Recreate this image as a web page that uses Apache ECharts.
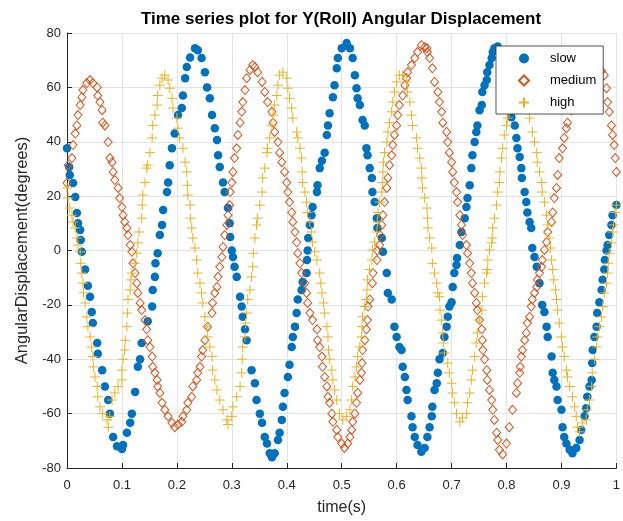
<!DOCTYPE html>
<html>
<head>
<meta charset="utf-8">
<script src="https://cdn.jsdelivr.net/npm/echarts@6/dist/echarts.min.js"></script>
<style>
html,body{margin:0;padding:0;background:#fff;}
#chart{width:623px;height:521px;}
</style>
</head>
<body>
<div id="chart"></div>
<script>
var titleText = 'Time series plot for Y(Roll) Angular Displacement';
var xName = 'time(s)';
var yName = 'AngularDisplacement(degrees)';
var seriesNames = ['slow', 'medium', 'high'];

var slowData = [
[0.000,37.6],[0.004,30.7],[0.005,27.8],[0.011,24.8],[0.015,19.7],[0.018,13.8],[0.020,10.0],[0.024,7.5],[0.025,3.9],[0.027,-0.5],
[0.033,-7],[0.038,-13],[0.042,-17],[0.045,-22.6],[0.047,-26.7],[0.055,-34],[0.056,-38],[0.064,-44],[0.069,-50],[0.075,-55],
[0.078,-60],[0.084,-68.6],[0.091,-72],[0.100,-73],[0.102,-71.5],[0.109,-67],[0.115,-63.4],[0.118,-60],[0.124,-52],[0.129,-42.8],
[0.133,-40],[0.136,-34],[0.147,-26],[0.155,-20.6],[0.156,-14.5],[0.160,-9.7],[0.161,-4.7],[0.165,-1],[0.169,5.7],[0.173,9.4],
[0.175,14.9],[0.182,21.5],[0.184,25],[0.187,31.4],[0.191,37.6],[0.196,43],[0.202,49.8],[0.209,52.4],[0.211,57],[0.215,63.4],
[0.218,67.5],[0.224,71],[0.233,74.4],[0.238,73.7],[0.245,70.8],[0.251,65.6],[0.255,60],[0.260,56],[0.264,49.8],[0.269,45],
[0.273,40.6],[0.275,35],[0.278,30.7],[0.284,25],[0.287,21.5],[0.293,15.6],[0.296,10],[0.297,5],[0.300,0],[0.302,-2.4],
[0.305,-6],[0.309,-9.7],[0.315,-17],[0.318,-20.6],[0.320,-24.4],[0.324,-29],[0.327,-33],[0.336,-44],[0.342,-48.8],[0.345,-55],
[0.351,-60],[0.355,-63.4],[0.360,-68.6],[0.364,-71],[0.369,-74.6],[0.373,-76],[0.378,-74.6],[0.384,-69.7],[0.387,-67],[0.391,-62.3],
[0.393,-57.5],[0.396,-52.4],[0.402,-46.5],[0.405,-42],[0.409,-35.5],[0.411,-31.8],[0.415,-28],[0.418,-23],[0.420,-18],[0.427,-14.5],
[0.429,-11.6],[0.436,-8.3],[0.437,-3.5],[0.438,0],[0.439,4.6],[0.442,9.4],[0.445,13],[0.447,16],[0.455,21.5],[0.456,24],
[0.460,30.3],[0.464,33],[0.469,36],[0.473,42.5],[0.475,46],[0.478,50.5],[0.484,56.4],[0.487,60.8],[0.491,67],[0.493,70.8],
[0.500,74.4],[0.509,76.3],[0.515,74.4],[0.520,70.8],[0.524,64.5],[0.527,59.7],[0.529,56],[0.533,53.5],[0.538,48],[0.542,46],
[0.545,37.6],[0.547,35],[0.551,30.3],[0.555,26.7],[0.556,21.5],[0.560,17.8],[0.564,11.9],[0.565,8.3],[0.573,4.6],[0.575,-0.5],
[0.582,-8.3],[0.584,-15.6],[0.591,-18],[0.596,-28],[0.600,-31.8],[0.605,-35.5],[0.609,-36.6],[0.611,-42.8],[0.615,-46.5],[0.618,-51.3],
[0.620,-55],[0.627,-61],[0.629,-65],[0.633,-68.6],[0.638,-71.5],[0.645,-74],[0.651,-72.6],[0.656,-68.6],[0.660,-65],[0.664,-61],
[0.665,-57.5],[0.669,-51.3],[0.673,-48.8],[0.675,-45],[0.678,-40],[0.684,-37.7],[0.687,-31.8],[0.691,-28],[0.693,-24.4],[0.696,-20.6],
[0.700,-19],[0.702,-13.4],[0.705,-8.3],[0.709,-5.3],[0.710,-2.8],[0.715,2],[0.718,6.8],[0.724,11.9],[0.727,16],[0.729,19.3],
[0.733,24],[0.736,30.3],[0.738,35],[0.742,39.9],[0.745,43.6],[0.747,46],[0.751,51.6],[0.755,53.5],[0.756,58.3],[0.760,60.8],
[0.764,62.7],[0.765,65.6],[0.769,68.2],[0.773,70.8],[0.775,73],[0.778,74.4],[0.784,75],[0.789,72],[0.795,64],[0.802,53.5],
[0.809,49],[0.815,46],[0.818,41.4],[0.820,37.6],[0.824,34.4],[0.827,30.3],[0.828,26.7],[0.833,21.5],[0.836,17.8],[0.838,14],
[0.842,10.5],[0.845,8.3],[0.847,0.9],[0.851,-2.4],[0.855,-6],[0.860,-12],[0.865,-20],[0.869,-22.6],[0.873,-28],[0.875,-31.8],
[0.882,-39],[0.884,-45],[0.887,-47.6],[0.891,-50],[0.893,-55],[0.900,-58.6],[0.902,-65],[0.905,-68.6],[0.909,-71],[0.915,-73.3],
[0.920,-74.6],[0.927,-72.6],[0.933,-69.7],[0.936,-66],[0.942,-61],[0.945,-58],[0.947,-53.8],[0.951,-50],[0.955,-47.6],[0.956,-41.4],
[0.957,-36.6],[0.960,-31.8],[0.964,-28],[0.965,-23],[0.969,-19],[0.973,-14.5],[0.975,-10.8],[0.978,-7],[0.979,-3.5],[0.982,0],
[0.984,2],[0.987,5.7],[0.991,9.4],[0.993,13],[1.000,16.7]
];

var mediumData = [
[0.000,24.8],[0.002,31.4],[0.009,34],[0.011,38.8],[0.015,43],[0.018,46],[0.020,49.8],[0.024,53.5],[0.027,56.4],[0.029,59],
[0.036,61.6],[0.042,62.7],[0.047,61.6],[0.055,60],[0.056,57],[0.060,54.6],[0.064,51.6],[0.065,47],[0.069,46],[0.075,39.9],
[0.078,34],[0.082,32.5],[0.084,28.9],[0.087,25.9],[0.093,23],[0.096,19.3],[0.100,16],[0.102,13],[0.105,10.5],[0.109,8.3],
[0.111,5.7],[0.115,2],[0.118,-0.5],[0.120,-4.7],[0.124,-8.3],[0.127,-12],[0.129,-15.6],[0.133,-19.3],[0.136,-21.9],[0.142,-25.6],
[0.145,-29],[0.147,-33],[0.151,-35.5],[0.155,-39],[0.156,-42.8],[0.160,-45],[0.164,-47.6],[0.165,-50],[0.169,-52.4],[0.173,-56],
[0.178,-58.6],[0.184,-61],[0.191,-63.4],[0.196,-65],[0.202,-64],[0.209,-63],[0.211,-61],[0.218,-58.6],[0.220,-56],[0.227,-53.8],
[0.229,-50],[0.236,-47.6],[0.238,-45],[0.242,-42.8],[0.245,-39],[0.247,-36.6],[0.251,-33],[0.256,-28],[0.264,-23],[0.265,-19.3],
[0.269,-15.6],[0.273,-13.4],[0.275,-9.7],[0.278,-6],[0.282,-2.4],[0.284,1.3],[0.287,5.7],[0.291,9.4],[0.293,13],[0.296,16.7],
[0.297,21.5],[0.300,25],[0.302,28.9],[0.305,34],[0.309,37.6],[0.311,42.5],[0.315,47],[0.318,51],[0.320,54.6],[0.324,59],
[0.327,63.4],[0.333,66.4],[0.338,68.2],[0.342,67.5],[0.347,65.6],[0.355,62],[0.360,58.3],[0.365,54.6],[0.373,51],[0.375,47],
[0.378,43.6],[0.384,39.9],[0.387,36],[0.391,32.5],[0.396,28.9],[0.400,25],[0.402,21.5],[0.405,17.8],[0.409,14],[0.411,10.5],
[0.415,6.8],[0.418,3],[0.420,-1],[0.424,-4.7],[0.427,-8.3],[0.433,-12],[0.436,-15.6],[0.438,-19.3],[0.442,-23],[0.447,-25.6],
[0.455,-29],[0.456,-33],[0.460,-35.5],[0.464,-39],[0.465,-42.8],[0.469,-46.5],[0.473,-50],[0.475,-53.8],[0.478,-56],[0.482,-60],
[0.484,-63],[0.491,-66],[0.493,-68.6],[0.500,-71],[0.505,-72.6],[0.511,-71],[0.515,-68.6],[0.518,-66],[0.520,-63],[0.524,-60],
[0.527,-56],[0.529,-52.4],[0.533,-47.6],[0.536,-45],[0.537,-41.4],[0.538,-36.6],[0.542,-33],[0.545,-29],[0.547,-25.6],[0.548,-20.6],
[0.551,-18],[0.556,-12],[0.557,-8.3],[0.564,-3.5],[0.565,0],[0.569,2],[0.570,5.7],[0.573,9.4],[0.575,13],[0.578,17.8],
[0.582,23],[0.584,26.7],[0.587,31.4],[0.591,35],[0.593,38.8],[0.596,42.5],[0.600,46],[0.602,49.8],[0.605,53.5],[0.611,57],
[0.615,60.8],[0.618,63.4],[0.620,65.6],[0.627,68.2],[0.633,70.8],[0.638,73],[0.645,75.5],[0.651,74.8],[0.655,74.4],[0.656,73],
[0.660,70.8],[0.665,67],[0.669,62],[0.675,58.3],[0.678,54.6],[0.682,51],[0.684,47],[0.691,43.6],[0.693,39.9],[0.696,36],
[0.700,32.5],[0.702,28.9],[0.705,25],[0.709,21.5],[0.711,17.8],[0.715,13],[0.718,9.4],[0.720,5.7],[0.727,2],[0.729,-1],
[0.733,-4.7],[0.736,-8.3],[0.738,-12],[0.742,-15.6],[0.745,-19.3],[0.747,-21.9],[0.751,-25.6],[0.755,-29],[0.756,-33],[0.757,-36.6],
[0.760,-40],[0.764,-44],[0.765,-47.6],[0.769,-51.3],[0.773,-55],[0.775,-58.6],[0.778,-62.3],[0.782,-67],[0.784,-69.7],[0.787,-73.3],
[0.793,-75],[0.800,-71],[0.805,-65],[0.811,-58.6],[0.818,-52.4],[0.820,-48.8],[0.824,-45],[0.825,-42.8],[0.827,-39],[0.829,-36.6],
[0.833,-33],[0.836,-30.3],[0.838,-26.7],[0.842,-24.4],[0.845,-20.6],[0.847,-18],[0.851,-15.6],[0.855,-13.4],[0.856,-10.8],[0.860,-8.3],
[0.864,-6],[0.865,-3.5],[0.869,0.2],[0.873,3.1],[0.875,6.8],[0.882,10.5],[0.884,14],[0.887,19.3],[0.891,23],[0.893,27.8],
[0.896,34],[0.902,37.6],[0.905,41.4],[0.909,45],[0.911,47],[0.918,51.6],[0.924,56],[0.929,61],[0.936,65],[0.944,68],
[0.951,69],[0.958,68],[0.965,67],[0.973,66],[0.978,64.5],[0.982,59.7],[0.984,54.6],[0.987,51],[0.991,46],[0.993,42.5],
[0.996,38.8],[0.998,34],[1.000,28.9]
];

var highData = [
[0.000,23],[0.002,19.3],[0.005,15.6],[0.009,13],[0.011,10.5],[0.015,8.3],[0.018,4.6],[0.020,2],[0.024,-0.5],[0.025,-4.7],
[0.027,-8.3],[0.029,-12],[0.030,-15.6],[0.033,-19.3],[0.036,-24.4],[0.038,-28],[0.042,-31.8],[0.045,-35.5],[0.047,-39],[0.048,-42.8],
[0.051,-46.5],[0.055,-50],[0.056,-53.8],[0.060,-57.5],[0.065,-60],[0.073,-62.3],[0.075,-65],[0.078,-61],[0.082,-55],[0.087,-52.4],
[0.093,-50],[0.100,-47.6],[0.100,-44],[0.102,-40],[0.105,-36.6],[0.106,-33],[0.109,-28],[0.110,-23],[0.111,-18],[0.115,-14.5],
[0.116,-10.8],[0.118,-8.3],[0.124,-4.7],[0.127,-1],[0.129,2.8],[0.131,6.8],[0.136,11.9],[0.137,16.7],[0.138,20.4],[0.142,25],
[0.145,30.3],[0.147,31.4],[0.151,36],[0.155,41.4],[0.156,46],[0.160,49.8],[0.164,53.5],[0.165,57],[0.169,60.8],[0.173,63.4],
[0.178,64.5],[0.184,62.7],[0.187,59.7],[0.191,56],[0.193,52.4],[0.200,48.7],[0.202,45],[0.205,41.4],[0.211,37.6],[0.215,32.5],
[0.218,28.9],[0.219,24],[0.220,20.4],[0.224,16.7],[0.225,11.9],[0.227,8.3],[0.229,4.6],[0.233,0.9],[0.236,-3.5],[0.238,-8.3],
[0.242,-12],[0.245,-15.6],[0.247,-19.3],[0.251,-24.4],[0.255,-28],[0.256,-31.8],[0.260,-35.5],[0.264,-39],[0.265,-44],[0.269,-47.6],
[0.273,-51.3],[0.278,-55],[0.284,-58.6],[0.291,-62.3],[0.293,-64],[0.300,-61],[0.302,-57.5],[0.309,-53.8],[0.315,-50],[0.318,-45],
[0.319,-40],[0.320,-35.5],[0.324,-31.8],[0.325,-26.7],[0.327,-23],[0.329,-18],[0.333,-14.5],[0.336,-9.7],[0.338,-6],[0.339,-1],
[0.342,4.6],[0.345,9.4],[0.347,11.9],[0.351,16.7],[0.355,21.5],[0.356,26.7],[0.360,30.3],[0.364,36],[0.365,37.6],[0.369,41.4],
[0.373,46],[0.375,49.8],[0.378,53.5],[0.382,57],[0.384,60.8],[0.387,64.5],[0.393,65.6],[0.400,63.4],[0.402,59.7],[0.405,56],
[0.409,52.4],[0.411,48.7],[0.418,43.6],[0.420,41.4],[0.424,37.6],[0.427,34],[0.428,28.9],[0.429,25],[0.433,21.5],[0.436,17.8],
[0.438,14],[0.442,10.5],[0.445,6.8],[0.447,3.1],[0.451,-0.5],[0.455,-3.5],[0.460,-8.3],[0.462,-12],[0.464,-15.6],[0.467,-19.3],
[0.469,-23],[0.473,-28],[0.475,-31.8],[0.476,-36.6],[0.478,-40],[0.482,-44],[0.484,-47.6],[0.487,-51.3],[0.491,-55],[0.496,-60],
[0.502,-62.3],[0.509,-61],[0.515,-58.6],[0.518,-55],[0.520,-50],[0.524,-46.5],[0.527,-42.8],[0.529,-39],[0.533,-35.5],[0.536,-31.8],
[0.537,-28],[0.538,-24.4],[0.542,-20.6],[0.545,-18],[0.546,-14.5],[0.547,-10.8],[0.551,-7],[0.555,-3.5],[0.556,0.2],[0.560,3.1],
[0.564,6.8],[0.565,10.5],[0.566,14],[0.569,17.8],[0.573,21.5],[0.574,25],[0.575,28.9],[0.576,32.5],[0.578,36],[0.582,39.9],
[0.584,43.6],[0.587,47],[0.591,51],[0.593,54.6],[0.596,58.3],[0.600,62],[0.605,64.5],[0.611,64.5],[0.618,62],[0.620,58.3],
[0.624,54.6],[0.627,49.8],[0.629,46],[0.636,41.4],[0.638,37.6],[0.642,34],[0.645,30.3],[0.646,26.7],[0.647,23],[0.651,19.3],
[0.655,15.6],[0.656,11.9],[0.657,8.3],[0.660,4.6],[0.664,0.9],[0.665,-4.7],[0.669,-8.3],[0.673,-12],[0.675,-15.6],[0.678,-17],
[0.679,-21.9],[0.682,-25.6],[0.684,-30.3],[0.685,-34],[0.687,-37.7],[0.693,-41.4],[0.696,-45],[0.700,-48.8],[0.702,-52.4],[0.705,-56],
[0.709,-60],[0.715,-63],[0.720,-61.6],[0.727,-60],[0.729,-56],[0.733,-52.4],[0.736,-47.6],[0.738,-44],[0.742,-39],[0.745,-34],
[0.747,-30.3],[0.751,-25.6],[0.755,-21.9],[0.756,-17],[0.760,-12],[0.764,-8.3],[0.765,-7],[0.766,-3.5],[0.769,0.2],[0.773,2.8],
[0.774,4.6],[0.775,8.3],[0.778,11.9],[0.782,16.7],[0.784,21.5],[0.787,25],[0.788,28.9],[0.791,34],[0.793,37.6],[0.796,42.5],
[0.800,46],[0.802,48.7],[0.805,51],[0.809,56],[0.813,60],[0.818,63],[0.822,64],[0.827,62],[0.831,57],[0.835,52],
[0.842,48.7],[0.847,43.6],[0.851,39.9],[0.855,36],[0.856,32.5],[0.860,28.9],[0.864,25],[0.865,21.5],[0.869,17.8],[0.873,13],
[0.875,9.4],[0.878,4.6],[0.880,0.9],[0.882,-3.5],[0.884,-7],[0.886,-10.8],[0.889,-14.5],[0.891,-18],[0.893,-21.9],[0.896,-26.7],
[0.900,-31.8],[0.902,-35.5],[0.905,-39],[0.909,-44],[0.911,-46.5],[0.915,-50],[0.920,-53.8],[0.924,-57.5],[0.927,-61],[0.929,-65],
[0.933,-66.7],[0.938,-63.4],[0.945,-62.3],[0.947,-58.6],[0.951,-55],[0.955,-50],[0.956,-45],[0.960,-40],[0.964,-35.5],[0.965,-31.8],
[0.969,-28],[0.973,-24.4],[0.975,-20.6],[0.978,-15.6],[0.982,-12],[0.984,-8.3],[0.985,-4.7],[0.987,-1],[0.991,2.8],[0.993,6.8],
[0.995,9.4],[0.998,14],[1.000,16.7]
];

var xTicks = {min: 0, max: 1, interval: 0.1};
var yTicks = {min: -80, max: 80, interval: 20};

var textColor = '#262626';
var fontFam = '"Liberation Sans", Arial, Helvetica, sans-serif';
var plusPath = 'path://M5,0L5,10M0,5L10,5';

var chart = echarts.init(document.getElementById('chart'), null, {renderer: 'canvas'});
chart.setOption({
  animation: false,
  backgroundColor: '#ffffff',
  title: {
    text: titleText,
    left: 336, top: 6, textAlign: 'center',
    textStyle: {fontFamily: fontFam, fontSize: 17, fontWeight: 'bold', color: '#000'}
  },
  grid: {left: 67, right: 6, top: 33, bottom: 52, containLabel: false},
  legend: {
    orient: 'vertical',
    left: 496, top: 46,
    backgroundColor: '#ffffff',
    borderColor: '#262626',
    borderWidth: 0.8,
    borderRadius: 0,
    padding: [6, 7, 5, 22],
    itemGap: 9,
    itemWidth: 10,
    itemHeight: 10,
    z: 10,
    textStyle: {fontFamily: fontFam, fontSize: 13, color: '#000', padding: [0, 0, 0, 16]},
    data: seriesNames
  },
  xAxis: {
    type: 'value', min: xTicks.min, max: xTicks.max, interval: xTicks.interval,
    name: xName, nameLocation: 'middle', nameGap: 32,
    nameTextStyle: {fontFamily: fontFam, fontSize: 16, color: textColor},
    axisLine: {show: true, onZero: false, lineStyle: {color: textColor, width: 1}},
    axisTick: {show: true, inside: true, length: 5, lineStyle: {color: textColor}},
    axisLabel: {fontFamily: fontFam, fontSize: 13, color: textColor, margin: 11},
    splitLine: {show: true, lineStyle: {color: '#e3e3e3', width: 1}}
  },
  yAxis: {
    type: 'value', min: yTicks.min, max: yTicks.max, interval: yTicks.interval,
    name: yName, nameLocation: 'middle', nameGap: 35,
    nameTextStyle: {fontFamily: fontFam, fontSize: 16.5, color: textColor},
    axisLine: {show: true, onZero: false, lineStyle: {color: textColor, width: 1}},
    axisTick: {show: true, inside: true, length: 5, lineStyle: {color: textColor}},
    axisLabel: {fontFamily: fontFam, fontSize: 13, color: textColor, margin: 6},
    splitLine: {show: true, lineStyle: {color: '#e3e3e3', width: 1}}
  },
  series: [
    {
      name: seriesNames[0], type: 'scatter', data: slowData,
      symbol: 'circle', symbolSize: 8.5,
      itemStyle: {color: '#0072BD', opacity: 1}
    },
    {
      name: seriesNames[1], type: 'scatter', data: mediumData,
      symbol: 'diamond', symbolSize: [8, 9],
      itemStyle: {color: 'rgba(0,0,0,0)', borderColor: '#D95319', borderWidth: 1, opacity: 1}
    },
    {
      name: seriesNames[2], type: 'scatter', data: highData,
      symbol: plusPath, symbolSize: 10,
      itemStyle: {color: 'rgba(0,0,0,0)', borderColor: '#EDB120', borderWidth: 1, opacity: 1}
    }
  ]
});
</script>
</body>
</html>
